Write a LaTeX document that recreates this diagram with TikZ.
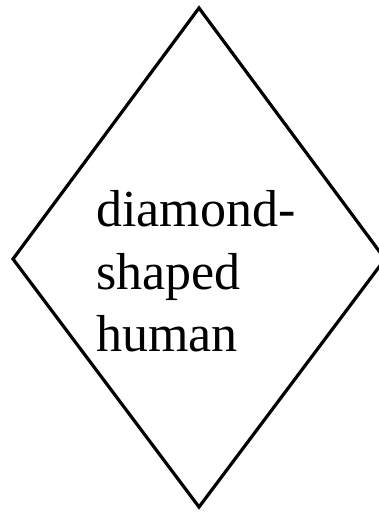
\documentclass[tikz,border=0pt]{standalone}
\usepackage{fontspec}
\setmainfont{Liberation Serif}
\begin{document}
\begin{tikzpicture}[x=1pt,y=1pt,
  txt/.style={anchor=base west, inner sep=0pt, font=\fontsize{52}{62.5}\selectfont}]
\useasboundingbox (0,0) rectangle (379,512);
\coordinate (T) at (199,504);
\coordinate (R) at (385,253);
\coordinate (B) at (199,5);
\coordinate (L) at (13,253);
\draw[line width=3.2pt, line join=miter] (T) -- (R) -- (B) -- (L) -- cycle;
\node[txt] (t1) at (96,285) {diamond-};
\node[txt] (t2) at (96,222.5) {shaped};
\node[txt] (t3) at (96,160) {human};
\end{tikzpicture}
\end{document}
